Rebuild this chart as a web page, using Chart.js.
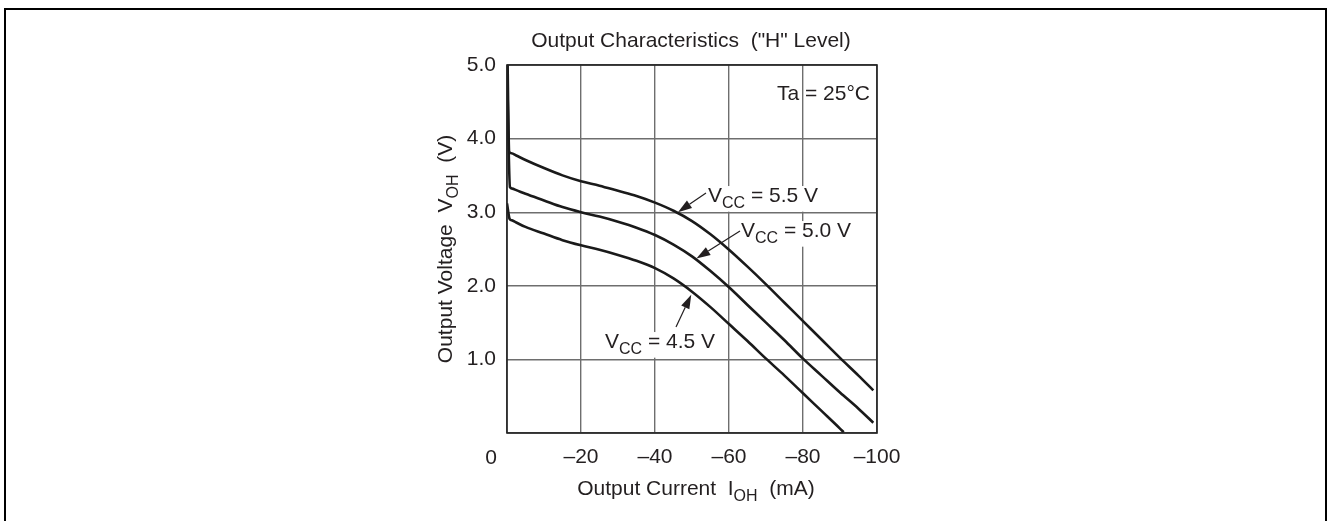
<!DOCTYPE html>
<html>
<head>
<meta charset="utf-8">
<script src="https://cdn.jsdelivr.net/npm/chart.js@4.4.1/dist/chart.umd.min.js"></script>
<style>
html,body{margin:0;padding:0;background:#fff;}
#wrap{width:1327px;height:521px;position:relative;}
canvas{display:block;}
</style>
</head>
<body>
<div id="wrap"><canvas id="c" width="1327" height="521"></canvas></div>
<script>
// ---- data ----
const xTickValues = [0, -20, -40, -60, -80, -100];
const xTickLabels = ['0', '–20', '–40', '–60', '–80', '–100'];
const yTickValues = [0, 1, 2, 3, 4, 5];
const yTickLabels = ['', '1.0', '2.0', '3.0', '4.0', '5.0'];

const seriesNames = ['VCC = 5.5 V', 'VCC = 5.0 V', 'VCC = 4.5 V'];

const current55 = [0, -0.6, -1.2, -2.5, -5, -10, -15, -20, -25, -30, -35, -40, -45, -50, -55, -60, -65, -70, -75, -80, -85, -90, -95, -99];
const voltage55 = [5.6, 3.82, 3.80, 3.77, 3.71, 3.60, 3.50, 3.42, 3.36, 3.29, 3.22, 3.13, 3.02, 2.88, 2.70, 2.49, 2.26, 2.02, 1.77, 1.52, 1.27, 1.02, 0.78, 0.58];

const current50 = [0, -0.8, -1.4, -2.5, -5, -10, -15, -20, -25, -30, -35, -40, -45, -50, -55, -60, -65, -70, -75, -80, -85, -90, -95, -99];
const voltage50 = [5.0, 3.34, 3.32, 3.30, 3.25, 3.16, 3.07, 3.00, 2.94, 2.87, 2.79, 2.69, 2.56, 2.40, 2.20, 1.98, 1.74, 1.50, 1.26, 1.01, 0.78, 0.55, 0.33, 0.14];

const current45 = [0, -0.7, -1.3, -2.5, -5, -10, -15, -20, -25, -30, -35, -40, -45, -50, -55, -60, -65, -70, -75, -80, -85, -90, -91];
const voltage45 = [3.12, 2.91, 2.89, 2.86, 2.80, 2.71, 2.62, 2.55, 2.49, 2.42, 2.34, 2.24, 2.10, 1.92, 1.71, 1.48, 1.25, 1.01, 0.78, 0.54, 0.30, 0.06, 0.01];

const chartTitle = 'Output Characteristics  ("H" Level)';
const tempNote = 'Ta = 25°C';

// ---- helpers ----
const FONT = '"Liberation Sans", Arial, Helvetica, sans-serif';
const FS = 21;
const INK = '#231f20';
function pts(xs, ys){ return xs.map((x,i)=>({x:x, y:ys[i]})); }

// text with subscript: parts = [[text, isSub], ...]
function drawRich(ctx, parts, x, y, size, align, bg){
  const subSize = Math.round(size*0.75);
  let w = 0;
  parts.forEach(p=>{ ctx.font = (p[1]?subSize:size)+'px '+FONT; w += ctx.measureText(p[0]).width; });
  let cx = align==='center' ? x - w/2 : (align==='right' ? x - w : x);
  if (bg){
    ctx.save(); ctx.fillStyle = '#fff';
    ctx.fillRect(cx - 2, y - size*0.76, w + 4, size*0.76 + size*0.27 + 4);
    ctx.restore();
  }
  parts.forEach(p=>{
    ctx.font = (p[1]?subSize:size)+'px '+FONT;
    ctx.textAlign = 'left';
    ctx.textBaseline = 'alphabetic';
    ctx.fillText(p[0], cx, y + (p[1]? size*0.27 : 0));
    cx += ctx.measureText(p[0]).width;
  });
}

function arrow(ctx, x1, y1, x2, y2){
  ctx.save();
  ctx.strokeStyle = INK; ctx.fillStyle = INK; ctx.lineWidth = 1.2;
  const a = Math.atan2(y2-y1, x2-x1);
  const L = 14, W = 4.5;
  const bx = x2 - L*Math.cos(a), by = y2 - L*Math.sin(a);
  ctx.beginPath(); ctx.moveTo(x1,y1); ctx.lineTo(bx,by); ctx.stroke();
  ctx.beginPath();
  ctx.moveTo(x2,y2);
  ctx.lineTo(bx + W*Math.sin(a), by - W*Math.cos(a));
  ctx.lineTo(bx - W*Math.sin(a), by + W*Math.cos(a));
  ctx.closePath(); ctx.fill();
  ctx.restore();
}

const decor = {
  id: 'decor',
  beforeDraw(chart){
    const ctx = chart.ctx;
    ctx.save();
    ctx.fillStyle = '#fff';
    ctx.fillRect(0,0,chart.width,chart.height);
    ctx.strokeStyle = '#000'; ctx.lineWidth = 2;
    ctx.beginPath();
    ctx.moveTo(5, 521); ctx.lineTo(5, 9); ctx.lineTo(1326, 9); ctx.lineTo(1326, 521);
    ctx.stroke();
    ctx.restore();
  },
  afterDraw(chart){
    const ctx = chart.ctx;
    const xs = chart.scales.x, ys = chart.scales.y;
    const ca = chart.chartArea;
    ctx.save();
    // plot frame
    ctx.strokeStyle = '#222'; ctx.lineWidth = 1.6;
    ctx.strokeRect(ca.left, ca.top, ca.right-ca.left, ca.bottom-ca.top);
    ctx.fillStyle = INK;
    // title
    ctx.font = FS+'px '+FONT; ctx.textAlign = 'center'; ctx.textBaseline = 'alphabetic';
    ctx.fillText(chartTitle, (ca.left+ca.right)/2 - 1, 47);
    // temp note
    ctx.textAlign = 'right';
    ctx.fillText(tempNote, ca.right - 7, 100);
    // zero label of x axis (offset left of the origin)
    ctx.textAlign = 'center';
    ctx.fillText(xTickLabels[0], xs.getPixelForValue(xTickValues[0]) - 16, 464);
    // x axis title
    drawRich(ctx, [['Output Current  I',false],['OH',true],['  (mA)',false]], (ca.left+ca.right)/2 + 4, 495, FS, 'center');
    // y axis title
    ctx.save();
    ctx.translate(452, (ca.top+ca.bottom)/2);
    ctx.rotate(-Math.PI/2);
    drawRich(ctx, [['Output Voltage  V',false],['OH',true],['  (V)',false]], 0, 0, FS, 'center');
    ctx.restore();
    // annotations
    drawRich(ctx, [['V',false],['CC',true],[' = 5.5 V',false]], 708, 202, FS, 'left', true);
    arrow(ctx, 706, 193, xs.getPixelForValue(-46.2), ys.getPixelForValue(3.0));
    drawRich(ctx, [['V',false],['CC',true],[' = 5.0 V',false]], 741, 237, FS, 'left', true);
    arrow(ctx, 740, 231, xs.getPixelForValue(-51.2), ys.getPixelForValue(2.37));
    drawRich(ctx, [['V',false],['CC',true],[' = 4.5 V',false]], 605, 348, FS, 'left', true);
    arrow(ctx, 676, 327, xs.getPixelForValue(-49.8), ys.getPixelForValue(1.88));
    ctx.restore();
  }
};

const lineStyle = {borderColor:'#1a1a1a', borderWidth:2.6, pointRadius:0, fill:false, cubicInterpolationMode:'monotone'};

new Chart(document.getElementById('c'), {
  type: 'line',
  data: {
    datasets: [
      Object.assign({label: seriesNames[0], data: pts(current55, voltage55)}, lineStyle),
      Object.assign({label: seriesNames[1], data: pts(current50, voltage50)}, lineStyle),
      Object.assign({label: seriesNames[2], data: pts(current45, voltage45)}, lineStyle)
    ]
  },
  options: {
    responsive: false,
    animation: false,
    devicePixelRatio: 1,
    layout: { padding: { left: 0, top: 65, right: 450, bottom: 0 } },
    plugins: { legend: {display:false}, tooltip: {enabled:false}, title: {display:false} },
    scales: {
      x: {
        type: 'linear', min: -100, max: 0, reverse: true,
        afterFit(s){ s.height = 88; },
        afterBuildTicks(s){ s.ticks = xTickValues.map(v=>({value:v})); },
        grid: { color:'#6e6e6e', lineWidth:1.4, drawTicks:false },
        border: { display:false },
        ticks: {
          padding: 12, color: INK, font: {size:FS, family: FONT}, maxRotation:0, autoSkip:false,
          callback(v){ const i = xTickValues.indexOf(v); return (i<=0) ? '' : xTickLabels[i]; }
        }
      },
      y: {
        type: 'linear', min: 0, max: 5,
        afterFit(s){ s.width = 507; },
        afterBuildTicks(s){ s.ticks = yTickValues.map(v=>({value:v})); },
        grid: { color:'#6e6e6e', lineWidth:1.4, drawTicks:false },
        border: { display:false },
        ticks: {
          padding: 11, color: INK, font: {size:FS, family: FONT}, autoSkip:false,
          callback(v){ const i = yTickValues.indexOf(v); return i<0 ? '' : yTickLabels[i]; }
        }
      }
    }
  },
  plugins: [decor]
});
</script>
</body>
</html>
